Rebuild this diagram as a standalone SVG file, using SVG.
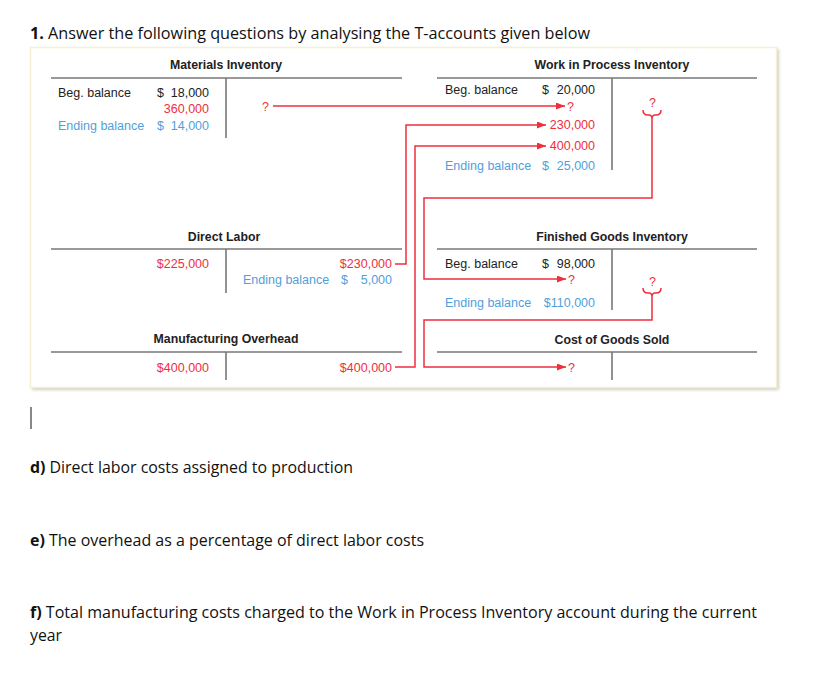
<svg xmlns="http://www.w3.org/2000/svg" width="828" height="682" viewBox="0 0 828 682">
<defs>
<style>
.t{font-family:"Liberation Sans",Arial,sans-serif;font-size:12.5px;fill:#222}
.h{font-family:"Liberation Sans",Arial,sans-serif;font-size:12.3px;font-weight:bold;fill:#222;text-anchor:middle}
.r{fill:#ef2f3c}
.b{fill:#4f9fdb}
.e{text-anchor:end}
.ln{stroke:#777;stroke-width:1.6;fill:none}
.c{stroke:#ef2f3c;stroke-width:1.5;fill:none}
.q{font-family:"Open Sans","Noto Sans",sans-serif;font-size:16px;fill:#111}
</style>
<marker id="ah" markerUnits="userSpaceOnUse" markerWidth="9" markerHeight="7" refX="9" refY="3.5" orient="auto">
<path d="M0,0 L9,3.5 L0,7 z" fill="#ef2f3c"/>
</marker>
<filter id="sh" x="-5%" y="-5%" width="110%" height="110%">
<feGaussianBlur stdDeviation="1.5"/>
</filter>
</defs>
<rect width="828" height="682" fill="#fff"/>
<g id="title">
<text class="q" x="30" y="39" textLength="560" lengthAdjust="spacingAndGlyphs"><tspan font-weight="bold">1.</tspan> Answer the following questions by analysing the T-accounts given below</text>
</g>
<g id="panel">
<rect x="32" y="49" width="747" height="341" fill="#d2d0c6" filter="url(#sh)"/>
<rect x="30.5" y="47.5" width="746" height="340" fill="#fff" stroke="#f4f0d2" stroke-width="1.5"/>
</g>
<g id="materials-inventory">
<text class="h" x="226" y="69">Materials Inventory</text>
<line class="ln" x1="51" y1="78" x2="402" y2="78"/>
<line class="ln" x1="226" y1="78" x2="226" y2="138"/>
<text class="t" x="58" y="97">Beg. balance</text>
<text class="t" x="157" y="97">$</text>
<text class="t e" x="209" y="97">18,000</text>
<text class="t e r" x="209" y="113">360,000</text>
<text class="t b" x="58" y="130">Ending balance</text>
<text class="t b" x="157" y="130">$</text>
<text class="t e b" x="209" y="130">14,000</text>
<text class="t r" x="262" y="111">?</text>
</g>
<g id="wip-inventory">
<text class="h" x="612" y="69">Work in Process Inventory</text>
<line class="ln" x1="437" y1="78" x2="757" y2="78"/>
<line class="ln" x1="612" y1="78" x2="612" y2="170"/>
<text class="t" x="445" y="94">Beg. balance</text>
<text class="t" x="542" y="94">$</text>
<text class="t e" x="595" y="94">20,000</text>
<text class="t r" x="567" y="111">?</text>
<text class="t e r" x="595" y="129">230,000</text>
<text class="t e r" x="595" y="150">400,000</text>
<text class="t b" x="445" y="170">Ending balance</text>
<text class="t b" x="542" y="170">$</text>
<text class="t e b" x="595" y="170">25,000</text>
<text class="t r" x="649" y="107" font-size="11">?</text>
</g>
<g id="direct-labor">
<text class="h" x="224" y="241">Direct Labor</text>
<line class="ln" x1="51" y1="249" x2="402" y2="249"/>
<line class="ln" x1="226" y1="249" x2="226" y2="293"/>
<text class="t e r" x="209" y="268">$225,000</text>
<text class="t e r" x="392" y="268">$230,000</text>
<text class="t b" x="243" y="284">Ending balance</text>
<text class="t b" x="341" y="284">$</text>
<text class="t e b" x="392" y="284">5,000</text>
</g>
<g id="finished-goods">
<text class="h" x="612" y="241">Finished Goods Inventory</text>
<line class="ln" x1="437" y1="249" x2="757" y2="249"/>
<line class="ln" x1="612" y1="249" x2="612" y2="310"/>
<text class="t" x="445" y="268">Beg. balance</text>
<text class="t" x="542" y="268">$</text>
<text class="t e" x="595" y="268">98,000</text>
<text class="t r" x="568" y="284">?</text>
<text class="t b" x="445" y="307">Ending balance</text>
<text class="t e b" x="595" y="307">$110,000</text>
<text class="t r" x="649" y="286" font-size="11">?</text>
</g>
<g id="mfg-overhead">
<text class="h" x="226" y="343">Manufacturing Overhead</text>
<line class="ln" x1="51" y1="352" x2="402" y2="352"/>
<line class="ln" x1="226" y1="352" x2="226" y2="380"/>
<text class="t e r" x="209" y="372">$400,000</text>
<text class="t e r" x="392" y="372">$400,000</text>
</g>
<g id="cogs">
<text class="h" x="612" y="344">Cost of Goods Sold</text>
<line class="ln" x1="437" y1="352" x2="757" y2="352"/>
<line class="ln" x1="612" y1="352" x2="612" y2="380"/>
<text class="t r" x="568" y="372">?</text>
</g>
<g id="connectors">
<path class="c" d="M273,106 H565" marker-end="url(#ah)"/>
<path class="c" d="M395,264 H406 V125 H546" marker-end="url(#ah)"/>
<path class="c" d="M395,367 H415 V146 H546" marker-end="url(#ah)"/>
<path class="c" d="M643,110 Q643,115 648,115 H649 Q652,115 652,119 Q652,115 655,115 H656 Q661,115 661,110"/>
<path class="c" d="M652,119 V198 H424 V279 H566" marker-end="url(#ah)"/>
<path class="c" d="M643,288 Q643,293 648,293 H649 Q652,293 652,297 Q652,293 655,293 H656 Q661,293 661,288"/>
<path class="c" d="M652,297 V320 H424 V367 H566" marker-end="url(#ah)"/>
</g>
<g id="questions">
<line x1="31" y1="407" x2="31" y2="429" stroke="#111" stroke-width="1"/>
<text class="q" x="30" y="473" textLength="323" lengthAdjust="spacingAndGlyphs"><tspan font-weight="bold">d)</tspan> Direct labor costs assigned to production</text>
<text class="q" x="30" y="546" textLength="394" lengthAdjust="spacingAndGlyphs"><tspan font-weight="bold">e)</tspan> The overhead as a percentage of direct labor costs</text>
<text class="q" x="30" y="618" textLength="727" lengthAdjust="spacingAndGlyphs"><tspan font-weight="bold">f)</tspan> Total manufacturing costs charged to the Work in Process Inventory account during the current</text>
<text class="q" x="30" y="641" textLength="32" lengthAdjust="spacingAndGlyphs">year</text>
</g>
</svg>
